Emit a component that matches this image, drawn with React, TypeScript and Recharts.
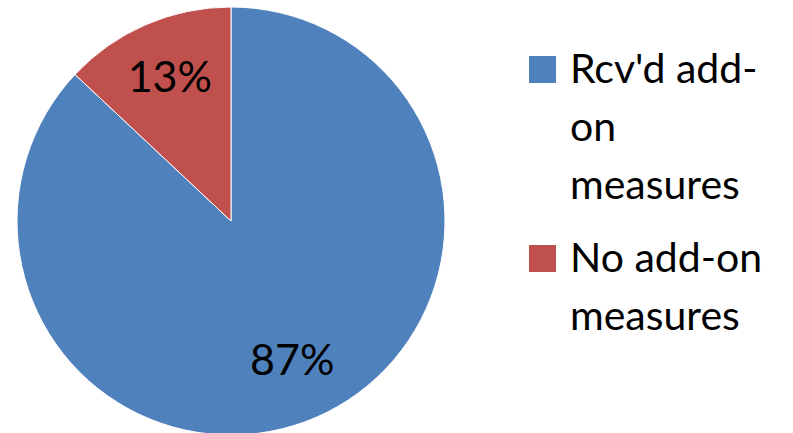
import React from 'react';
import { PieChart, Pie, Cell, Legend } from 'recharts';

const categories = ["Rcv'd add-on measures", 'No add-on measures'];
const shares = [87, 13];
const colors = ['#4F81BD', '#C0504D'];

const data = categories.map((name, i) => ({ name, value: shares[i] }));

const FONT = 'Lato, "Open Sans", sans-serif';
const RADIAN = Math.PI / 180;

const renderLabel = (props: any) => {
  const { cx, cy, midAngle, outerRadius, value } = props;
  const r = outerRadius * 0.72;
  const x = cx + r * Math.cos(-midAngle * RADIAN);
  const y = cy + r * Math.sin(-midAngle * RADIAN);
  return (
    <text
      x={x}
      y={y}
      dy={-4}
      fill="#000"
      textAnchor="middle"
      dominantBaseline="central"
      fontFamily={FONT}
      fontSize={43}
    >
      {`${value}%`}
    </text>
  );
};

const LegendBox = () => (
  <div style={{ fontFamily: FONT, fontSize: 41, lineHeight: '58px', color: '#000' }}>
    {categories.map((name, i) => (
      <div key={name} style={{ position: 'relative', paddingLeft: 41, marginBottom: 15 }}>
        <span
          style={{
            position: 'absolute',
            left: 0,
            top: 17,
            width: 27,
            height: 27,
            background: colors[i],
          }}
        />
        {name}
      </div>
    ))}
  </div>
);

export default function App() {
  return (
    <div style={{ position: 'absolute', left: 0, top: 0, width: 793, height: 433, background: '#fff' }}>
      <PieChart width={793} height={433} margin={{ top: 0, right: 0, bottom: 0, left: 0 }}>
        <Pie
          data={data}
          dataKey="value"
          nameKey="name"
          cx={231}
          cy={221}
          outerRadius={214}
          startAngle={90}
          endAngle={-270}
          stroke="#fff"
          strokeWidth={1}
          label={renderLabel}
          labelLine={false}
          isAnimationActive={false}
        >
          {data.map((d, i) => (
            <Cell key={d.name} fill={colors[i]} />
          ))}
        </Pie>
        <Legend
          content={() => <LegendBox />}
          wrapperStyle={{ left: 529, top: 39, width: 256 }}
        />
      </PieChart>
    </div>
  );
}
